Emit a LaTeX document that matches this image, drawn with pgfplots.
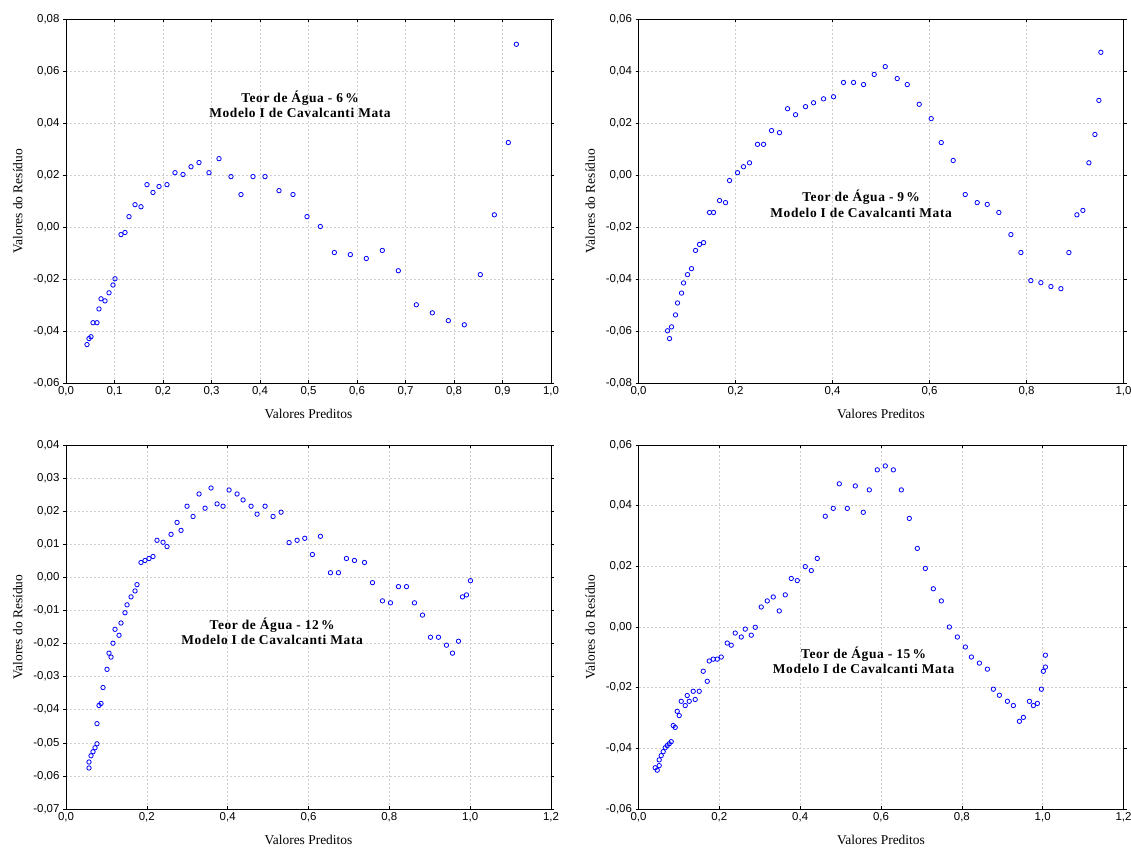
\documentclass[border=0pt]{standalone}
\usepackage{fontspec}
\setmainfont{Liberation Serif}
\newfontfamily\arial{Liberation Sans}
\newfontfamily\annotfont[LetterSpace=4.5]{Liberation Serif}
\usepackage{pgfplots}
\pgfplotsset{compat=1.18}
\pgfplotsset{resid/.style={
  scale only axis, width=485bp, height=364bp, anchor=south west,
  axis line style={black, line width=0.9bp},
  grid=major, major grid style={gray!38, dash pattern=on 2bp off 2bp, line width=0.5bp},
  tick label style={font=\arial\fontsize{11.5}{13}\selectfont},
  /pgf/number format/assume math mode=true,
  x tick label style={/pgf/number format/.cd, fixed, fixed zerofill, precision=1, use comma},
  y tick label style={/pgf/number format/.cd, fixed, fixed zerofill, precision=2, use comma},
  label style={font=\fontsize{13.5}{15}\selectfont},
  xlabel={Valores Preditos}, ylabel={Valores do Resíduo},
  xlabel style={yshift=-6bp}, ylabel style={yshift=4bp},
  xtick align=inside, ytick align=outside, major tick length=3bp,
  tick style={black, line width=0.6bp},
  scaled ticks=false,
}}
\tikzset{resmark/.style={only marks, mark=o, mark size=2.2bp, color=blue, mark options={line width=0.8bp}}}
\tikzset{annot/.style={font=\annotfont\bfseries\fontsize{13.5}{15.5}\selectfont, align=center}}
\begin{document}
\begin{tikzpicture}
\path[use as bounding box] (0,0) rectangle (1131bp,850bp);
% Panel 1
\begin{axis}[resid, at={(66bp,466.7bp)}, xmin=0, xmax=1, ymin=-0.06, ymax=0.08,
  xtick={0,0.1,...,1.01}, ytick={-0.06,-0.04,-0.02,0,0.02,0.04,0.06,0.08}]
\addplot[resmark] table {
0.0433 -0.0451
0.0474 -0.0428
0.0515 -0.0421
0.0557 -0.0367
0.0639 -0.0367
0.0680 -0.0314
0.0722 -0.0275
0.0804 -0.0283
0.0887 -0.0252
0.0969 -0.0222
0.1010 -0.0198
0.1134 -0.0028
0.1216 -0.0020
0.1299 0.0041
0.1423 0.0087
0.1546 0.0079
0.1670 0.0164
0.1794 0.0134
0.1918 0.0157
0.2082 0.0164
0.2247 0.0210
0.2412 0.0203
0.2577 0.0233
0.2742 0.0249
0.2948 0.0210
0.3155 0.0264
0.3402 0.0195
0.3608 0.0126
0.3856 0.0195
0.4103 0.0195
0.4392 0.0141
0.4680 0.0126
0.4969 0.0041
0.5244 0.0003
0.5533 -0.0097
0.5863 -0.0105
0.6192 -0.0120
0.6522 -0.0089
0.6852 -0.0167
0.7223 -0.0298
0.7553 -0.0329
0.7883 -0.0359
0.8213 -0.0375
0.8543 -0.0182
0.8832 0.0048
0.9120 0.0326
0.9285 0.0704
};
\node[annot] at (axis cs:0.4825,0.0473) {Teor de Água - 6\,\%\\Modelo I de Cavalcanti Mata};
\end{axis}
% Panel 2
\begin{axis}[resid, at={(638.5bp,466.7bp)}, xmin=0, xmax=1, ymin=-0.08, ymax=0.06,
  xtick={0,0.2,0.4,0.6,0.8,1.0}, ytick={-0.08,-0.06,-0.04,-0.02,0,0.02,0.04,0.06}]
\addplot[resmark] table {
0.0599 -0.0598
0.0640 -0.0628
0.0681 -0.0583
0.0763 -0.0537
0.0804 -0.0491
0.0887 -0.0453
0.0928 -0.0414
0.1011 -0.0382
0.1093 -0.0359
0.1176 -0.0289
0.1258 -0.0266
0.1341 -0.0259
0.1464 -0.0143
0.1547 -0.0143
0.1671 -0.0097
0.1794 -0.0105
0.1877 -0.0020
0.2042 0.0010
0.2165 0.0033
0.2289 0.0048
0.2454 0.0119
0.2578 0.0119
0.2743 0.0172
0.2907 0.0164
0.3073 0.0256
0.3238 0.0233
0.3444 0.0264
0.3609 0.0279
0.3815 0.0294
0.4021 0.0302
0.4227 0.0357
0.4434 0.0357
0.4640 0.0349
0.4860 0.0388
0.5087 0.0418
0.5334 0.0372
0.5541 0.0349
0.5788 0.0273
0.6035 0.0218
0.6242 0.0126
0.6488 0.0057
0.6736 -0.0074
0.6983 -0.0105
0.7190 -0.0112
0.7430 -0.0143
0.7678 -0.0228
0.7884 -0.0297
0.8090 -0.0405
0.8296 -0.0413
0.8503 -0.0428
0.8709 -0.0436
0.8874 -0.0297
0.9039 -0.0152
0.9162 -0.0135
0.9286 0.0048
0.9410 0.0157
0.9492 0.0288
0.9533 0.0473
};
\node[annot] at (axis cs:0.459,-0.011) {Teor de Água - 9\,\%\\Modelo I de Cavalcanti Mata};
\end{axis}
% Panel 3
\begin{axis}[resid, at={(66bp,41bp)}, xmin=0, xmax=1.2, ymin=-0.07, ymax=0.04,
  xtick={0,0.2,0.4,0.6,0.8,1.0,1.2}, ytick={-0.07,-0.06,-0.05,-0.04,-0.03,-0.02,-0.01,0,0.01,0.02,0.03,0.04}]
\addplot[resmark] table {
0.0569 -0.0576
0.0569 -0.0558
0.0619 -0.0539
0.0668 -0.0527
0.0718 -0.0515
0.0767 -0.0503
0.0767 -0.0442
0.0817 -0.0387
0.0866 -0.0381
0.0916 -0.0333
0.1015 -0.0278
0.1064 -0.0229
0.1114 -0.0241
0.1163 -0.0199
0.1213 -0.0157
0.1312 -0.0175
0.1361 -0.0138
0.1460 -0.0107
0.1510 -0.0083
0.1609 -0.0059
0.1708 -0.0041
0.1757 -0.0022
0.1856 0.0045
0.1955 0.0051
0.2054 0.0057
0.2153 0.0063
0.2252 0.0112
0.2401 0.0106
0.2500 0.0093
0.2599 0.0130
0.2748 0.0166
0.2847 0.0142
0.2995 0.0215
0.3144 0.0184
0.3292 0.0252
0.3441 0.0209
0.3589 0.0270
0.3738 0.0222
0.3886 0.0215
0.4035 0.0264
0.4233 0.0252
0.4381 0.0234
0.4579 0.0215
0.4728 0.0191
0.4926 0.0215
0.5124 0.0184
0.5322 0.0197
0.5520 0.0105
0.5718 0.0112
0.5908 0.0118
0.6097 0.0069
0.6295 0.0124
0.6543 0.0014
0.6741 0.0014
0.6939 0.0057
0.7137 0.0051
0.7385 0.0045
0.7583 -0.0016
0.7830 -0.0071
0.8028 -0.0077
0.8226 -0.0028
0.8424 -0.0028
0.8622 -0.0077
0.8820 -0.0114
0.9018 -0.0181
0.9216 -0.0181
0.9414 -0.0205
0.9563 -0.0229
0.9711 -0.0193
0.9810 -0.0059
0.9909 -0.0053
1.0008 -0.0010
};
\node[annot] at (axis cs:0.51,-0.0163) {Teor de Água - 12\,\%\\Modelo I de Cavalcanti Mata};
\end{axis}
% Panel 4
\begin{axis}[resid, at={(638.5bp,41bp)}, xmin=0, xmax=1.2, ymin=-0.06, ymax=0.06,
  xtick={0,0.2,0.4,0.6,0.8,1.0,1.2}, ytick={-0.06,-0.04,-0.02,0,0.02,0.04,0.06}]
\addplot[resmark] table {
0.0413 -0.0464
0.0463 -0.0472
0.0512 -0.0438
0.0512 -0.0457
0.0562 -0.0424
0.0611 -0.0411
0.0661 -0.0398
0.0710 -0.0391
0.0760 -0.0385
0.0809 -0.0378
0.0859 -0.0325
0.0908 -0.0331
0.0958 -0.0278
0.1007 -0.0292
0.1057 -0.0245
0.1156 -0.0259
0.1205 -0.0226
0.1255 -0.0245
0.1354 -0.0212
0.1403 -0.0239
0.1502 -0.0212
0.1601 -0.0146
0.1701 -0.0179
0.1750 -0.0112
0.1849 -0.0106
0.1948 -0.0106
0.2047 -0.0099
0.2195 -0.0053
0.2294 -0.0060
0.2393 -0.0020
0.2542 -0.0033
0.2641 -0.0007
0.2790 -0.0027
0.2889 -0.0001
0.3037 0.0066
0.3186 0.0086
0.3334 0.0099
0.3483 0.0053
0.3631 0.0106
0.3780 0.0160
0.3928 0.0153
0.4126 0.0199
0.4275 0.0186
0.4423 0.0226
0.4621 0.0365
0.4819 0.0391
0.4968 0.0472
0.5166 0.0391
0.5364 0.0465
0.5562 0.0378
0.5710 0.0452
0.5908 0.0518
0.6106 0.0531
0.6305 0.0518
0.6503 0.0452
0.6701 0.0358
0.6899 0.0259
0.7097 0.0193
0.7295 0.0126
0.7493 0.0086
0.7691 0.0000
0.7889 -0.0033
0.8087 -0.0066
0.8236 -0.0099
0.8434 -0.0119
0.8632 -0.0139
0.8780 -0.0205
0.8929 -0.0225
0.9127 -0.0245
0.9275 -0.0259
0.9424 -0.0311
0.9523 -0.0298
0.9672 -0.0245
0.9770 -0.0259
0.9869 -0.0252
0.9968 -0.0205
1.0017 -0.0146
1.0067 -0.0132
1.0067 -0.0093
};
\node[annot] at (axis cs:0.557,-0.011) {Teor de Água - 15\,\%\\Modelo I de Cavalcanti Mata};
\end{axis}
\end{tikzpicture}
\end{document}
